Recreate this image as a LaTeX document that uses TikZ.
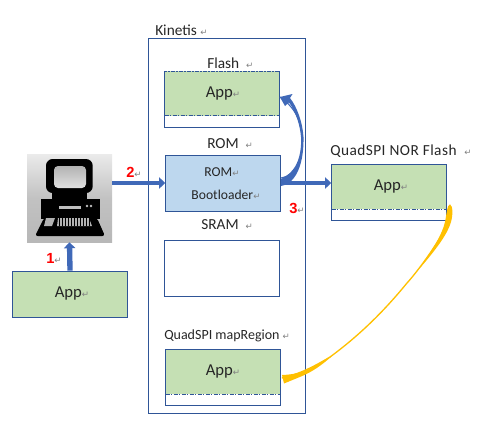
\documentclass[tikz,border=0pt]{standalone}
\usepackage{fontspec}
\setmainfont{Carlito}
\newfontfamily\markfont{DejaVu Sans}
\newfontfamily\numfont{Liberation Sans}
\usetikzlibrary{arrows.meta,calc}
\definecolor{lineblue}{HTML}{2F5597}
\definecolor{arrowblue}{HTML}{4069B8}
\definecolor{appgreen}{HTML}{C5E0B4}
\definecolor{romblue}{HTML}{BDD7EE}
\definecolor{markgray}{HTML}{808080}
\definecolor{arrowgold}{HTML}{FFC000}
\definecolor{textgray}{HTML}{262626}
\newcommand{\retmark}{{\markfont\fontsize{6.5pt}{7pt}\selectfont\color{markgray}↵}}
\newcommand{\stepnum}[1]{{\numfont\bfseries\fontsize{11pt}{12pt}\selectfont\color{red}#1}}
\tikzset{
  membox/.style={draw=lineblue, line width=0.65pt, fill=white, minimum width=86.2pt, minimum height=42pt, inner sep=0pt},
  appbox/.style={draw=lineblue, line width=0.6pt, dash pattern=on 3pt off 1pt on 1pt off 1pt, fill=appgreen, minimum width=86.2pt, minimum height=33.5pt, inner sep=0pt},
  apptext/.style={inner sep=0pt, text=textgray, font=\fontsize{12.5pt}{14pt}\selectfont},
  romtext/.style={inner sep=0pt, text=textgray, font=\fontsize{10.2pt}{12pt}\selectfont},
  title/.style={anchor=west, inner sep=0pt, text=textgray, font=\fontsize{11.5pt}{14pt}\selectfont},
  bigarrow/.style={draw=arrowblue, line width=3.4pt, -{Triangle[length=4.5pt,width=8.5pt]}},
}
\begin{document}
\begin{tikzpicture}[x=0.75pt, y=-0.75pt]
  \useasboundingbox (0, 0) rectangle (496, 429);

  % Kinetis
  \node [draw=lineblue, line width=0.65pt, minimum width=118pt, minimum height=281.5pt, inner sep=0pt] (kinetis) at (227.25, 225.75) {};
  \node [title] (kinetislabel) at (155, 30) {Kinetis\ \retmark};

  % Flash
  \node [membox] (flash) at (222, 99) {};
  \node [appbox] (flashapp) at (222, 93.5) {};
  \node [apptext] (flashapptext) at (223, 93) {App\retmark};
  \node [title] (flashlabel) at (207, 63) {Flash\ \ \retmark};

  % ROM
  \node [membox, fill=romblue] (rom) at (223, 183) {};
  \node [romtext] (romlabeltext) at (222, 172) {ROM\retmark};
  \node [romtext] (boottext) at (226, 194.5) {Bootloader\retmark};
  \node [title] (romlabel) at (207, 144) {ROM\ \ \retmark};

  % SRAM
  \node [membox] (sram) at (222, 268) {};
  \node [title] (sramlabel) at (201, 225) {SRAM\ \ \retmark};

  % QuadSPI map
  \node [membox] (map) at (223, 377.5) {};
  \node [appbox] (mapapp) at (223, 372) {};
  \node [apptext] (mapapptext) at (223, 371) {App\retmark};
  \node [title, font=\fontsize{10.5pt}{12pt}\selectfont] (maplabel) at (164, 336) {QuadSPI mapRegion\ \retmark};

  % QuadSPI NOR Flash
  \node [membox] (nor) at (389, 192.5) {};
  \node [appbox] (norapp) at (389, 187) {};
  \node [apptext] (norapptext) at (391, 186) {App\retmark};
  \node [title] (norlabel) at (330, 151) {\addfontfeature{LetterSpace=3}QuadSPI NOR Flash\ \ \retmark};

  % Host App
  \node [draw=lineblue, line width=0.65pt, fill=appgreen, minimum width=86.2pt, minimum height=34.5pt, inner sep=0pt] (hostapp) at (70, 294) {};
  \node [apptext] (hostapptext) at (72, 293) {App\retmark};

  % Computer
  \node [minimum width=63.75pt, minimum height=66pt, inner sep=0pt, shade, top color=black!8, bottom color=black!28, middle color=black!24] (pc) at (69.5, 198) {};
  \fill [black, rounded corners=5pt] (46, 159) rectangle (92.7, 193);
  \fill [black] (52, 190) rectangle (87, 199);
  \fill [black] (40.7, 199) rectangle (100, 219);
  \fill [black, rounded corners=2pt] (44, 218) -- (97, 218) -- (105, 236) -- (35, 236) -- cycle;
  \shade [top color=black!30, bottom color=black!12, rounded corners=3pt] (54, 166) rectangle (86, 188);
  \fill [black!25] (59, 206) rectangle (81, 208.5);
  \fill [black!25] (87, 206) circle (1.4) (91, 206) circle (1.4);
  \fill [black!30] (46, 218) -- (55, 218) -- (52, 226) -- (44, 226) -- cycle;
  \fill [black!30] (58, 218) -- (89, 218) -- (92, 226) -- (57, 226) -- cycle;
  \foreach \i in {0, 3, ..., 30} {
    \draw [black, line width=0.2pt] (59 + \i, 218) -- (59 + \i, 226);
  }

  % Connections
  \draw [bigarrow, line width=4pt] (hostapp.north) -- (pc.south);
  \draw [bigarrow] (pc.east |- rom.west) -- (rom.west);
  \draw [bigarrow] (rom.east) -- (nor.west |- rom.east);

  \coordinate (bendstart) at ($(rom.east) + (0, -5)$);
  \coordinate (bendend) at ($(flashapp.east) + (0, 3.5)$);
  \draw [arrowblue, line width=0.8pt] (bendstart) .. controls (297, 175) and (303, 158) .. (302, 137) .. controls (301, 122) and (296, 108) .. (bendend);
  \fill [arrowblue] (281, 186) .. controls (298, 183) and (304, 160) .. (303.5, 137) .. controls (302.5, 122) and (297, 107) .. (290, 98) -- (292.5, 94) -- (bendend) -- (285, 106) -- (289, 102.5) .. controls (296, 112) and (300, 125) .. (301, 137) .. controls (302, 158) and (295, 173) .. (281, 179) -- cycle;

  \coordinate (goldstart) at ($(norapp.south east) + (3, -5)$);
  \coordinate (goldend) at ($(mapapp.east) + (1, 6)$);
  \draw [arrowgold, line width=1pt] (goldstart) .. controls (451, 212) and (447, 226) .. (440, 238) .. controls (425, 262) and (410, 280) .. (407, 283) .. controls (385, 310) and (360, 335) .. (330, 357) .. controls (315, 366) and (300, 374) .. (goldend);
  \fill [arrowgold] (goldstart) .. controls (453, 205) and (453, 215) .. (451, 222) .. controls (448, 232) and (440, 245) .. (420, 268) .. controls (432, 250) and (442, 235) .. (445, 222) .. controls (447, 212) and (447, 205) .. (goldstart);
  \fill [arrowgold] (282, 375) .. controls (295, 374.5) and (302, 372) .. (307, 370) .. controls (315, 366) and (322, 362) .. (332, 356) .. controls (322, 365) and (312, 372) .. (301, 376.5) -- (284, 383.5) -- cycle;

  % Step numbers
  \node [inner sep=0pt, anchor=west] (stepone) at (46, 258) {\stepnum{1}\retmark};
  \node [inner sep=0pt, anchor=west] (steptwo) at (126, 172) {\stepnum{2}\retmark};
  \node [inner sep=0pt, anchor=west] (stepthree) at (289, 208) {\stepnum{3}\retmark};
\end{tikzpicture}
\end{document}
